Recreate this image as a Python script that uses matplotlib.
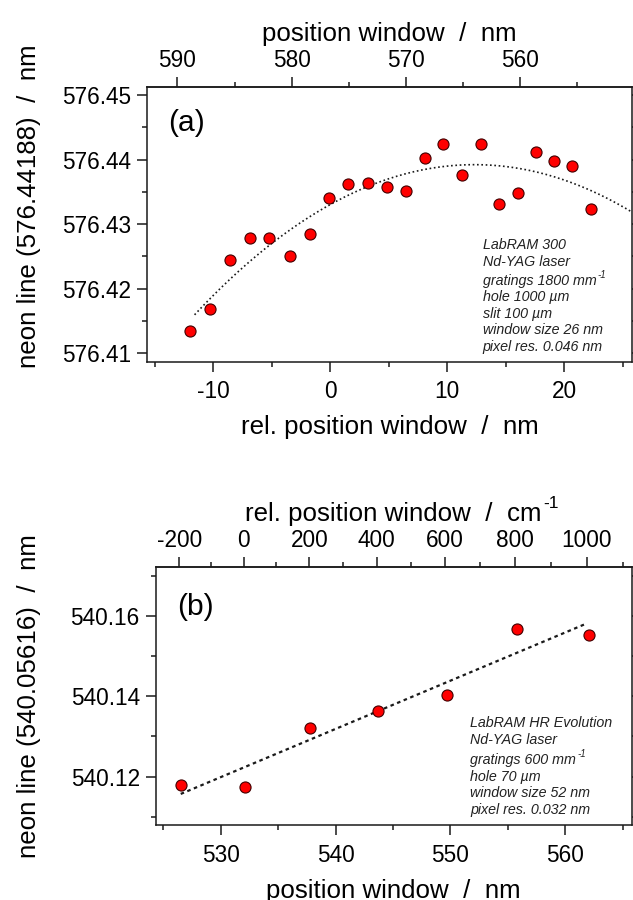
import matplotlib.pyplot as plt
from matplotlib.ticker import MultipleLocator, FixedLocator
from matplotlib.text import Annotation
import numpy as np

plt.rcParams['font.family'] = ['Liberation Sans', 'DejaVu Sans']
plt.rcParams['axes.unicode_minus'] = False

# (a) LabRAM 300: neon line vs relative window position
rel_pos_a = [-12.0, -10.28, -8.55, -6.89, -5.21, -3.44, -1.76, -0.11, 1.54, 3.19, 4.82,
             6.44, 8.07, 9.66, 11.26, 12.85, 14.44, 16.0, 17.58, 19.15, 20.7, 22.26]
neon_a = [576.4135, 576.4169, 576.4245, 576.4279, 576.4278, 576.4251, 576.4285, 576.4340,
          576.4362, 576.4364, 576.4357, 576.4352, 576.4403, 576.4425, 576.4376, 576.4425,
          576.4331, 576.4349, 576.4412, 576.4398, 576.4390, 576.4324]

# (b) LabRAM HR Evolution: neon line vs window position
window_b = [526.51, 532.12, 537.81, 543.66, 549.70, 555.78, 562.08]
neon_b = [540.1179, 540.1174, 540.1322, 540.1364, 540.1404, 540.1568, 540.1552]

# top-axis tick values
top_ticks_a = [590, 580, 570, 560]
top_minor_a = [585, 575, 565, 555]
top_ticks_b = [-200, 0, 200, 400, 600, 800, 1000]
top_minor_b = [-100, 100, 300, 500, 700, 900, 1100]

# instrument notes; second item of a pair is a superscript
info_a = [('LabRAM 300', ''), ('Nd-YAG laser', ''), ('gratings 1800 mm', '-1'),
          ('hole 1000 µm', ''), ('slit 100 µm', ''), ('window size 26 nm', ''),
          ('pixel res. 0.046 nm', '')]
info_b = [('LabRAM HR Evolution', ''), ('Nd-YAG laser', ''), ('gratings 600 mm', '-1'),
          ('hole 70 µm', ''), ('window size 52 nm', ''), ('pixel res. 0.032 nm', '')]

LASER_NM = 532.0
TICK_FS = 16.3
LABEL_FS = 18.6
INK = '#1a1a1a'

W, H = 633, 900
fig = plt.figure(figsize=(W / 100, H / 100), dpi=100)


def px_axes(left, top, right, bottom):
    return fig.add_axes([left / W, 1 - bottom / H, (right - left) / W, (bottom - top) / H])


def style_axis(ax):
    for sp in ax.spines.values():
        sp.set_linewidth(1.1)
        sp.set_color(INK)
    ax.tick_params(which='both', direction='out', width=1.1, color=INK,
                   labelsize=TICK_FS, labelcolor='black')
    ax.tick_params(which='major', length=7.5)
    ax.tick_params(which='minor', length=3.8)
    ax.tick_params(axis='y', which='both', right=True, pad=4)
    ax.tick_params(axis='x', pad=6)


def style_top(sec, major, minor):
    sec.xaxis.set_major_locator(FixedLocator(major))
    sec.xaxis.set_minor_locator(FixedLocator(minor))
    sec.tick_params(which='both', direction='out', width=1.1, color=INK,
                    labelsize=TICK_FS, pad=3)
    sec.tick_params(which='major', length=7.5)
    sec.tick_params(which='minor', length=3.8)
    sec.spines['top'].set_linewidth(1.1)
    sec.spines['top'].set_color(INK)


def superscript(target, s, size, dy):
    # small raised text hooked to the top-right corner of another text;
    # added to the figure so it is drawn after every axes
    ann = Annotation(s, xy=(1, 1), xycoords=target, xytext=(0.6, dy),
                     textcoords='offset points', fontsize=size,
                     style=target.get_style(), color=target.get_color(),
                     ha='left', va='top', annotation_clip=False)
    fig.add_artist(ann)
    return ann


def info_block(ax, lines, x, y0, step, gap, box_h):
    y = y0
    for i, (line, sup) in enumerate(lines):
        t = ax.text(x, y, line, transform=ax.transAxes, fontsize=10.3, style='italic',
                    color='#222222', ha='left', va='center')
        if sup:
            superscript(t, sup, 7, 3)
        y -= (step + (gap if i == 1 else 0)) / box_h


# ---- panel (a)
ax1 = px_axes(147.3, 86.7, 631.7, 361.7)
style_axis(ax1)
ax1.plot(rel_pos_a, neon_a, 'o', ms=8, mfc='red', mec='#400000', mew=0.8, zorder=3)

coef_a = np.polyfit(rel_pos_a, neon_a, 2)
xs = np.linspace(rel_pos_a[0] + 0.4, 25.76, 200)
ax1.plot(xs, np.polyval(coef_a, xs), ls=(0, (1, 1.6)), lw=1.2, color=INK, zorder=2)

ax1.set_xlim(-15.64, 25.76)
ax1.set_ylim(576.4087, 576.4513)
ax1.xaxis.set_major_locator(MultipleLocator(10))
ax1.xaxis.set_minor_locator(MultipleLocator(5))
ax1.yaxis.set_major_locator(MultipleLocator(0.01))
ax1.yaxis.set_minor_locator(MultipleLocator(0.005))
ax1.yaxis.set_major_formatter(plt.FormatStrFormatter('%.2f'))
ax1.set_xlabel('rel. position window  /  nm', fontsize=LABEL_FS)
ax1.xaxis.set_label_coords(0.5, -0.195)
ax1.set_ylabel('neon line (576.44188)  /  nm', fontsize=LABEL_FS)
ax1.yaxis.set_label_coords(-0.244, 0.566)
ax1.yaxis.label.set_va('center')

top_a = ax1.secondary_xaxis('top', functions=(lambda x: 576.62 - 1.0236 * np.asarray(x),
                                               lambda w: (576.62 - np.asarray(w)) / 1.0236))
style_top(top_a, top_ticks_a, top_minor_a)
top_a.set_xlabel('position window  /  nm', fontsize=LABEL_FS, labelpad=6)

ax1.text(0.043, 0.868, '(a)', transform=ax1.transAxes, fontsize=21.6, va='center', ha='left')
info_block(ax1, info_a, 0.6924, (361.7 - 245) / 275, 16.6, 2.5, 275)

# ---- panel (b)
ax2 = px_axes(155.7, 566.7, 631.7, 825)
style_axis(ax2)
ax2.plot(window_b, neon_b, 'o', ms=8, mfc='red', mec='#400000', mew=0.8, zorder=3)

coef_b = np.polyfit(window_b, neon_b, 1)
xb = np.linspace(window_b[0], window_b[-1] - 0.35, 50)
ax2.plot(xb, np.polyval(coef_b, xb), ls=(0, (1.6, 1.6)), lw=1.6, color=INK, zorder=2)

ax2.set_xlim(524.33, 565.8)
ax2.set_ylim(540.108, 540.1722)
ax2.xaxis.set_major_locator(MultipleLocator(10))
ax2.xaxis.set_minor_locator(MultipleLocator(5))
ax2.yaxis.set_major_locator(MultipleLocator(0.02))
ax2.yaxis.set_minor_locator(MultipleLocator(0.01))
ax2.yaxis.set_major_formatter(plt.FormatStrFormatter('%.2f'))
ax2.set_xlabel('position window  /  nm', fontsize=LABEL_FS)
ax2.xaxis.set_label_coords(0.5, -0.21)
ax2.set_ylabel('neon line (540.05616)  /  nm', fontsize=LABEL_FS)
ax2.yaxis.set_label_coords(-0.266, 0.5)
ax2.yaxis.label.set_va('center')


def nm_to_shift(lam):
    lam = np.asarray(lam, dtype=float)
    with np.errstate(divide='ignore'):
        return 1e7 / LASER_NM - 1e7 / lam


def shift_to_nm(w):
    w = np.asarray(w, dtype=float)
    with np.errstate(divide='ignore'):
        return 1e7 / (1e7 / LASER_NM - w)


top_b = ax2.secondary_xaxis('top', functions=(nm_to_shift, shift_to_nm))
style_top(top_b, top_ticks_b, top_minor_b)
top_b.set_xlabel('rel. position window  /  cm', fontsize=LABEL_FS, labelpad=6)
superscript(top_b.xaxis.label, '-1', 12.5, 4)

ax2.text(0.044, 0.845, '(b)', transform=ax2.transAxes, fontsize=21.6, va='center', ha='left')
info_block(ax2, info_b, (470.5 - 155.7) / 476, (825 - 723.3) / 258.3, 16.4, 4.3, 258.3)

fig.savefig('out.png', dpi=100)
